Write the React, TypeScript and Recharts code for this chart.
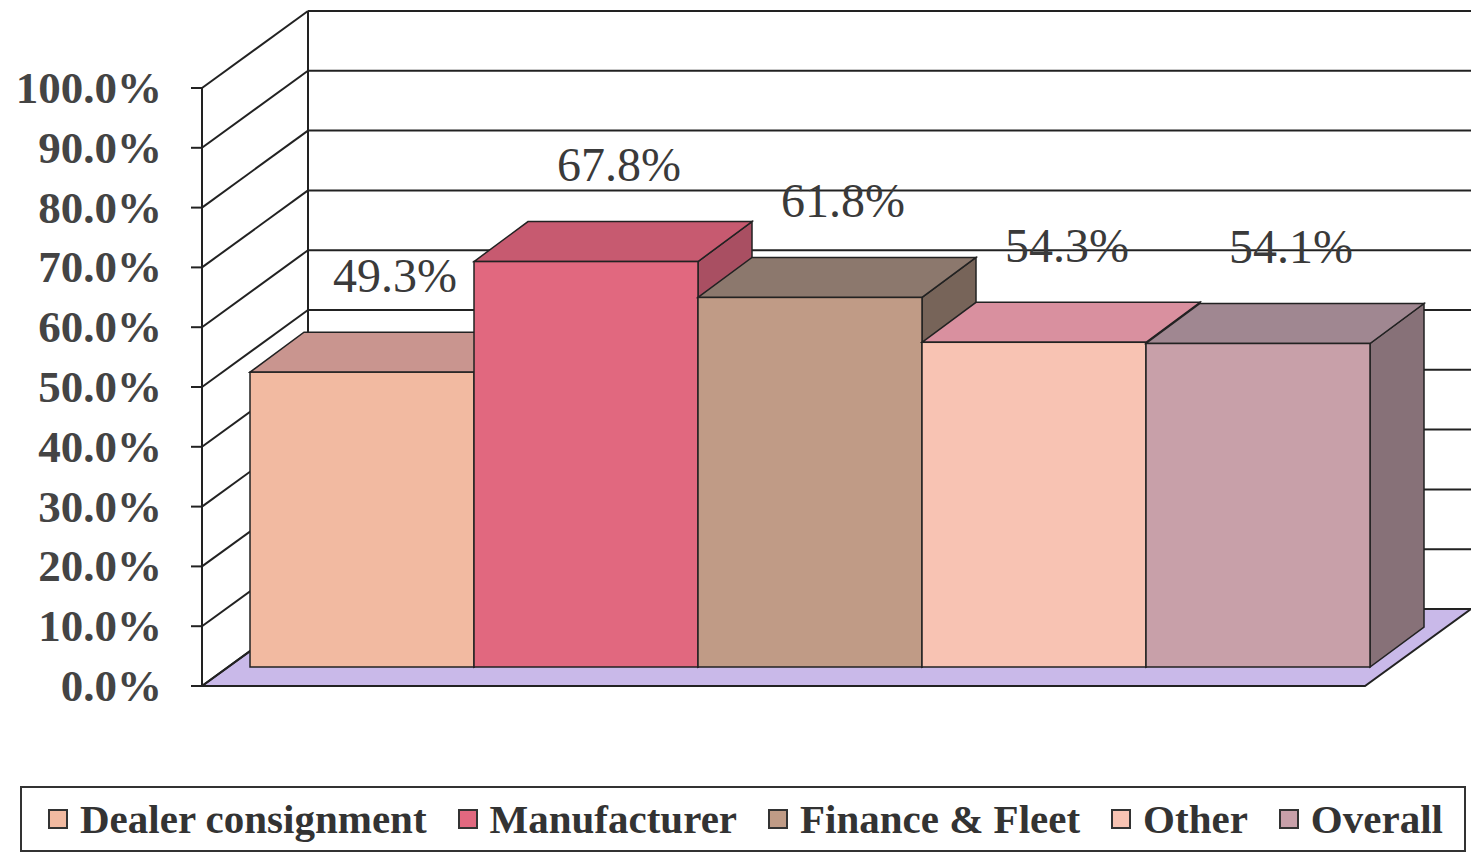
import { BarChart, Bar, XAxis, YAxis, CartesianGrid, LabelList, Legend } from 'recharts'

const SERIES = ['Dealer consignment', 'Manufacturer', 'Finance & Fleet', 'Other', 'Overall']
const KEYS = ['dealer', 'manufacturer', 'finance', 'other', 'overall']
const RATES = [0.493, 0.678, 0.618, 0.543, 0.541]
const Y_TICKS = [0, 0.1, 0.2, 0.3, 0.4, 0.5, 0.6, 0.7, 0.8, 0.9, 1]

const FRONT = ['#F2BAA1', '#E1687F', '#C09B86', '#F8C3B3', '#C8A0A9']
const TOP = ['#C9958F', '#C75A70', '#8C786D', '#D9909F', '#A08791']
const SIDE = ['#AD7F78', '#A94F62', '#776459', '#BE7A87', '#877178']

// layout of the fake 3d frame
const W = 1471
const H = 854
const PLOT_TOP = 69
const PLOT_BOTTOM = 667
const AXIS_X = 202
const WALL_X = 308
const FRONT_DY = 19
const BACK_DY = -58
const BOX_DX = 54
const BOX_DY = -40
const FONT = '"Liberation Serif", "Times New Roman", serif'

const row: Record<string, number | string> = { name: 'rate' }
KEYS.forEach((k, i) => {
  row[k] = RATES[i]
})
const data = [row]

const fmt = (v: number) => `${(v * 100).toFixed(1)}%`

function GridLine(props: any) {
  const y = props.y1
  const yF = y + FRONT_DY
  const yB = y + BACK_DY
  const isFloor = Math.abs(y - PLOT_BOTTOM) < 1
  return (
    <g key={props.key}>
      {isFloor && (
        <>
          <polygon
            points={`${AXIS_X},${yF} ${W - (WALL_X - AXIS_X)},${yF} ${W},${yB} ${WALL_X},${yB}`}
            fill="#C9B9E9"
            stroke="#222"
            strokeWidth={2}
          />
          <line x1={AXIS_X} y1={PLOT_TOP + FRONT_DY} x2={AXIS_X} y2={yF} stroke="#222" strokeWidth={2} />
          <line x1={WALL_X} y1={PLOT_TOP + BACK_DY} x2={WALL_X} y2={yB} stroke="#222" strokeWidth={2} />
        </>
      )}
      <line x1={AXIS_X} y1={yF} x2={WALL_X} y2={yB} stroke="#222" strokeWidth={2} />
      <line x1={WALL_X} y1={yB} x2={W} y2={yB} stroke="#222" strokeWidth={2} />
      <line x1={AXIS_X - 11} y1={yF} x2={AXIS_X} y2={yF} stroke="#222" strokeWidth={2} />
    </g>
  )
}

function YTick({ y, payload }: any) {
  return (
    <text
      x={162}
      y={y + FRONT_DY}
      textAnchor="end"
      dominantBaseline="central"
      fontFamily={FONT}
      fontWeight="bold"
      fontSize={45}
      fill="#444"
    >
      {fmt(payload.value)}
    </text>
  )
}

function Box3D(props: any, i: number) {
  const { x, y, width: w, height: h } = props
  if (w == null || h == null) return <g />
  const side = `${x + w},${y} ${x + w + BOX_DX},${y + BOX_DY} ${x + w + BOX_DX},${y + h + BOX_DY} ${x + w},${y + h}`
  const top = `${x},${y} ${x + BOX_DX},${y + BOX_DY} ${x + w + BOX_DX},${y + BOX_DY} ${x + w},${y}`
  return (
    <g>
      <polygon points={side} fill={SIDE[i]} stroke="#222" strokeWidth={1.5} />
      <polygon points={top} fill={TOP[i]} stroke="#222" strokeWidth={1.5} />
      <rect x={x} y={y} width={w} height={h} fill={FRONT[i]} stroke="#222" strokeWidth={1.5} />
    </g>
  )
}

function ValueLabel({ x, y, width, value }: any) {
  return (
    <text
      x={x + width / 2 + 33}
      y={y - 97}
      textAnchor="middle"
      dominantBaseline="central"
      fontFamily={FONT}
      fontSize={48}
      fill="#3a3a3a"
    >
      {fmt(value)}
    </text>
  )
}

function LegendBox() {
  return (
    <div
      style={{
        boxSizing: 'border-box',
        width: '100%',
        height: '100%',
        border: '2px solid #333',
        display: 'flex',
        alignItems: 'center',
        paddingLeft: 26,
        fontFamily: FONT,
        fontWeight: 'bold',
        fontSize: 41,
        color: '#333',
        whiteSpace: 'nowrap'
      }}
    >
      {SERIES.map((s, i) => (
        <div key={s} style={{ display: 'flex', alignItems: 'center', marginRight: 31 }}>
          <span
            style={{
              display: 'inline-block',
              width: 16,
              height: 16,
              background: FRONT[i],
              border: '2px solid #333',
              marginRight: 12
            }}
          />
          <span>{s}</span>
        </div>
      ))}
    </div>
  )
}

export default function App() {
  return (
    <div style={{ position: 'absolute', left: 0, top: 0, width: W, height: H, background: '#fff' }}>
      <BarChart
        width={W}
        height={H}
        data={data}
        barSize={224}
        barGap={0}
        margin={{ top: PLOT_TOP, right: 80, bottom: H - PLOT_BOTTOM, left: 128 }}
      >
        <CartesianGrid vertical={false} horizontal={GridLine} />
        <XAxis dataKey="name" hide />
        <YAxis
          type="number"
          domain={[0, 1]}
          ticks={Y_TICKS}
          interval={0}
          width={100}
          axisLine={false}
          tickLine={false}
          tick={YTick}
        />
        {KEYS.map((k, i) => (
          <Bar
            key={k}
            dataKey={k}
            name={SERIES[i]}
            fill={FRONT[i]}
            isAnimationActive={false}
            shape={(p: any) => Box3D(p, i)}
          >
            <LabelList dataKey={k} content={ValueLabel} />
          </Bar>
        ))}
        <Legend
          layout="horizontal"
          verticalAlign="middle"
          align="center"
          wrapperStyle={{ left: 20, top: 786, width: 1446, height: 66 }}
          content={() => <LegendBox />}
        />
      </BarChart>
    </div>
  )
}
